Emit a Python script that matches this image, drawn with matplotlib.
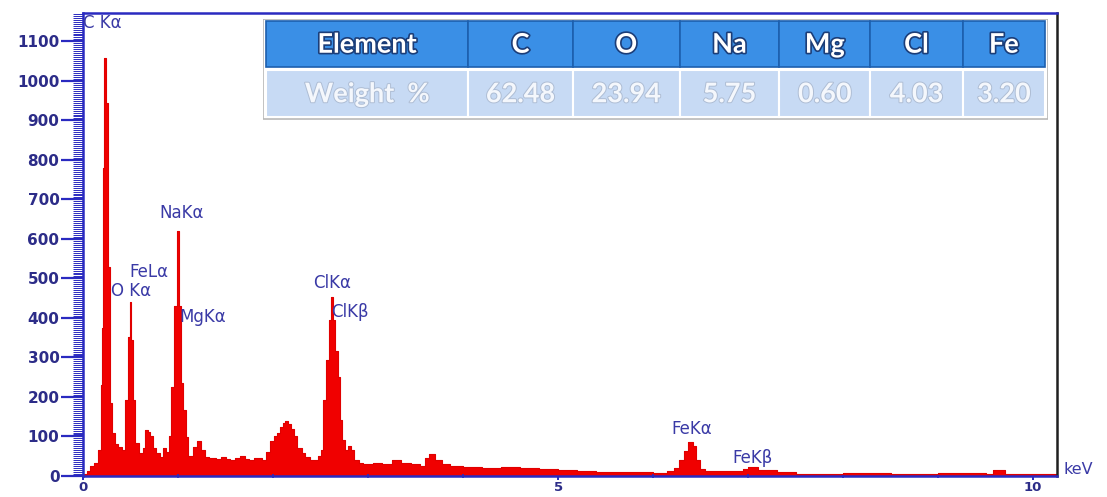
import matplotlib
matplotlib.use("Agg")
import matplotlib.pyplot as plt
import matplotlib.patheffects as pe
from matplotlib.patches import Rectangle
from matplotlib.ticker import MultipleLocator, FixedLocator

# EDS spectrum (keV, counts; each value holds until the next energy)
energy = [0.00, 0.04, 0.07, 0.12, 0.16, 0.185, 0.20, 0.21, 0.225, 0.24, 0.26, 0.28,
          0.30, 0.34, 0.37, 0.41, 0.44, 0.47, 0.495, 0.51, 0.53, 0.55, 0.59, 0.63,
          0.65, 0.68, 0.71, 0.74, 0.77, 0.81, 0.84, 0.87, 0.90, 0.93, 0.96, 0.99,
          1.01, 1.03, 1.05, 1.08, 1.11, 1.16, 1.20, 1.24, 1.28, 1.33, 1.40, 1.45,
          1.50, 1.55, 1.60, 1.65, 1.70, 1.75, 1.80, 1.88, 1.93, 1.97, 2.01, 2.04,
          2.07, 2.10, 2.13, 2.16, 2.19, 2.22, 2.25, 2.30, 2.34, 2.39, 2.47, 2.50,
          2.53, 2.56, 2.585, 2.61, 2.63, 2.655, 2.68, 2.70, 2.73, 2.76, 2.79, 2.82,
          2.85, 2.90, 2.95, 3.05, 3.15, 3.25, 3.35, 3.45, 3.55, 3.60, 3.64, 3.70,
          3.78, 3.86, 4.00, 4.20, 4.40, 4.60, 4.80, 5.00, 5.20, 5.40, 5.60, 5.80,
          6.00, 6.15, 6.22, 6.27, 6.32, 6.37, 6.42, 6.45, 6.49, 6.55, 6.85, 6.95,
          7.00, 7.10, 7.30, 7.50, 8.00, 8.50, 9.00, 9.50, 9.58, 9.70, 10.25]
counts = [4, 12, 24, 32, 66, 230, 375, 780, 1058, 945, 530, 185,
          108, 80, 73, 66, 192, 352, 441, 345, 192, 83, 58, 72,
          116, 112, 100, 70, 58, 48, 70, 60, 100, 225, 430, 620,
          430, 235, 168, 98, 50, 73, 88, 66, 48, 45, 42, 48,
          43, 40, 45, 50, 42, 40, 45, 40, 60, 88, 100, 110,
          125, 135, 140, 132, 118, 100, 72, 58, 48, 41, 50, 66,
          192, 293, 395, 454, 395, 316, 250, 142, 90, 66, 75, 66,
          41, 32, 30, 32, 30, 41, 32, 30, 26, 45, 55, 41,
          30, 25, 23, 21, 22, 20, 18, 15, 12, 10, 9, 10,
          8, 12, 20, 40, 62, 87, 75, 40, 18, 12, 12, 18,
          23, 15, 10, 6, 7, 6, 7, 6, 14, 6, 5]

# peak labels: text, energy, counts of label centre
peak_names = ["C K\u03b1", "O K\u03b1", "FeL\u03b1", "NaK\u03b1", "MgK\u03b1",
              "ClK\u03b1", "ClK\u03b2", "FeK\u03b1", "FeK\u03b2"]
peak_energy = [0.27, 0.51, 0.69, 1.04, 1.26, 2.62, 2.81, 6.41, 7.05]
peak_height = [1147, 467, 517, 666, 403, 488, 416, 119, 46]

# composition table
elements = ["C", "O", "Na", "Mg", "Cl", "Fe"]
weight_pct = ["62.48", "23.94", "5.75", "0.60", "4.03", "3.20"]

AXIS_BLUE = "#2a2ac0"
TEXT_BLUE = "#3a3aa6"

fig = plt.figure(figsize=(11.07, 4.97), dpi=100)
ax = fig.add_axes([0.075, 0.0423, 0.8798, 0.9316])

ax.fill_between(energy, counts, 0, step="post", color="#f00000", linewidth=0)
ax.step(energy, counts, where="post", color="#e00000", linewidth=0.8)

ax.set_xlim(0, 10.25)
ax.set_ylim(0, 1172)

for side in ["left", "top", "bottom"]:
    ax.spines[side].set_color(AXIS_BLUE)
    ax.spines[side].set_linewidth(1.8)
ax.spines["right"].set_color("#202020")
ax.spines["right"].set_linewidth(1.8)

ax.yaxis.set_major_locator(MultipleLocator(100))
ax.yaxis.set_minor_locator(MultipleLocator(5))
ax.xaxis.set_major_locator(FixedLocator([0, 5, 10]))
ax.xaxis.set_minor_locator(MultipleLocator(1))
ax.set_yticks(range(0, 1101, 100))
ax.tick_params(axis="y", which="major", direction="out", length=16, width=1.6,
               color=AXIS_BLUE, labelsize=11, labelcolor="#2c2c88", pad=1)
ax.tick_params(axis="y", which="minor", direction="out", length=7, width=0.7,
               color=AXIS_BLUE)
ax.tick_params(axis="x", which="major", direction="out", length=3, width=1.4,
               color=AXIS_BLUE, labelsize=9.5, labelcolor="#2c2c88", pad=0.5)
ax.tick_params(axis="x", which="minor", direction="inout", length=3, width=1.2,
               color=AXIS_BLUE)
for lab in ax.get_yticklabels() + ax.get_xticklabels():
    lab.set_fontweight("bold")

for name, e, h in zip(peak_names, peak_energy, peak_height):
    x = e
    ha = "center"
    if name.startswith("C K"):
        x, ha = 0.0, "left"
    ax.text(x, h, name, ha=ha, va="center", fontsize=12, color=TEXT_BLUE)

ax.text(1.007, 0.015, "keV", transform=ax.transAxes, ha="left", va="center",
        fontsize=11.5, color=TEXT_BLUE)

# composition table drawn in its own axes (pixel units)
col_w = [204, 105, 108, 100, 92, 93, 83]
tab = fig.add_axes([263 / 1107, 1 - 120 / 497, 785 / 1107, 101 / 497])
tab.set_xlim(-3, 788)
tab.set_ylim(101, -1)
tab.axis("off")
tab.add_patch(Rectangle((-3, -1), 791, 101, facecolor="white",
                        edgecolor="#b8b8b8", linewidth=1.2))

head = ["Element"] + elements
row = ["Weight  %"] + weight_pct
x0 = 0
for w, h_txt, r_txt in zip(col_w, head, row):
    tab.add_patch(Rectangle((x0, 1), w, 46, facecolor="#3a8fe6",
                            edgecolor="#1d5fae", linewidth=1.2))
    tab.add_patch(Rectangle((x0, 50), w, 48, facecolor="#c7daf4",
                            edgecolor="white", linewidth=1.5))
    tab.text(x0 + w / 2, 25, h_txt, ha="center", va="center", fontsize=19.5,
             fontweight="bold", family="Lato", color="white",
             path_effects=[pe.withStroke(linewidth=2.4, foreground="#1b3d78")])
    tab.text(x0 + w / 2, 75, r_txt, ha="center", va="center", fontsize=19.5,
             fontweight="bold", family="Lato", color="#f4f7fc",
             path_effects=[pe.withStroke(linewidth=1.4, foreground="#aebdd4")])
    x0 += w

fig.savefig("out.png", dpi=100)
